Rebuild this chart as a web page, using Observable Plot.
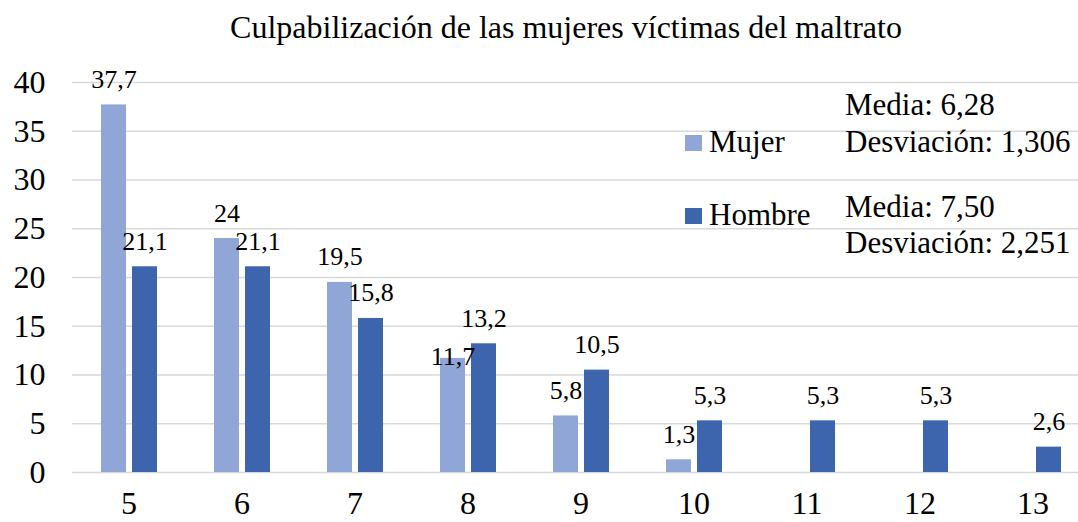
<!DOCTYPE html>
<html>
<head>
<meta charset="utf-8">
<script src="https://cdn.jsdelivr.net/npm/d3@7"></script>
<script src="https://cdn.jsdelivr.net/npm/@observablehq/plot@0.6"></script>
<style>
  html, body { margin: 0; padding: 0; background: #fff; overflow: hidden; }
  #wrap { position: relative; width: 1078px; height: 522px; font-family: "Liberation Serif", "Times New Roman", Times, "Tinos", serif; color: #000; }
  #wrap svg { position: absolute; left: 0; top: 0; font-family: "Liberation Serif", "Times New Roman", Times, "Tinos", serif !important; }
  #wrap svg text { font-family: "Liberation Serif", "Times New Roman", Times, "Tinos", serif !important; }
  .t { position: absolute; line-height: 1; white-space: nowrap; }
  .sw { position: absolute; width: 17px; height: 16px; }
</style>
</head>
<body>
<div id="wrap">
  <div class="t" id="title" style="left:0; top:11px; width:1078px; padding-left:54px; box-sizing:border-box; text-align:center; font-size:32px;"></div>
</div>
<script>
const categories = [5, 6, 7, 8, 9, 10, 11, 12, 13];
const mujer  = [37.7, 24, 19.5, 11.7, 5.8, 1.3, null, null, null];
const hombre = [21.1, 21.1, 15.8, 13.2, 10.5, 5.3, 5.3, 5.3, 2.6];
const series = ["Mujer", "Hombre"];
const colors = ["#8FA6D6", "#3C65AE"];
const yTicks = [0, 5, 10, 15, 20, 25, 30, 35, 40];
const titleText = "Culpabilización de las mujeres víctimas del maltrato";
const statsMujer = ["Media: 6,28", "Desviación: 1,306"];
const statsHombre = ["Media: 7,50", "Desviación: 2,251"];

const rows = [];
categories.forEach((c, i) => {
  rows.push({cat: c, sex: "Mujer", value: mujer[i]});
  rows.push({cat: c, sex: "Hombre", value: hombre[i]});
});
const fmt = v => String(v).replace(".", ",");
const isShifted = d => d.cat === 8 && d.sex === "Mujer";
const serifStack = '"Liberation Serif", "Times New Roman", Times, Tinos, serif';

const chart = Plot.plot({
  width: 1078,
  height: 522,
  marginTop: 82,
  marginBottom: 50,
  marginLeft: 70,
  marginRight: 0,
  style: {fontFamily: serifStack, fontSize: "32px", color: "#000", background: "transparent", overflow: "visible"},
  facet: {data: rows, x: "cat"},
  fx: {domain: categories, range: [70, 1090], paddingInner: 0, paddingOuter: 0, tickSize: 0, tickPadding: 19, label: null},
  x: {domain: series, paddingInner: 0.2, paddingOuter: 0.87, axis: null},
  y: {domain: [0, 40], ticks: yTicks, tickSize: 0, tickPadding: 27, label: null},
  color: {domain: series, range: colors},
  marks: [
    Plot.ruleY(yTicks, {stroke: "#d9d9d9", strokeWidth: 1.6}),
    Plot.barY(rows, {x: "sex", y: "value", fill: "sex", inset: 0}),
    Plot.text(rows, {filter: d => d.value != null && !isShifted(d), x: "sex", y: "value", text: d => fmt(d.value), lineAnchor: "bottom", dy: -17, fontSize: 26, fill: "#000"}),
    Plot.text(rows, {filter: d => d.value != null && isShifted(d), x: "sex", y: "value", text: d => fmt(d.value), lineAnchor: "bottom", dy: 7, fontSize: 26, fill: "#000"})
  ]
});
chart.setAttribute("font-family", serifStack);
const wrap = document.getElementById("wrap");
wrap.insertBefore(chart, wrap.firstChild);
document.getElementById("title").textContent = titleText;

function addText(txt, left, top, size) {
  const d = document.createElement("div");
  d.className = "t";
  d.style.left = left + "px";
  d.style.top = top + "px";
  d.style.fontSize = size + "px";
  d.textContent = txt;
  wrap.appendChild(d);
}
function addSwatch(color, left, top) {
  const s = document.createElement("div");
  s.className = "sw";
  s.style.left = left + "px";
  s.style.top = top + "px";
  s.style.background = color;
  wrap.appendChild(s);
}
// legend
addSwatch(colors[0], 685, 135);
addText(series[0], 709, 126, 31);
addSwatch(colors[1], 685, 208);
addText(series[1], 709, 199, 31);
// stats annotations
addText(statsMujer[0], 845, 89, 31);
addText(statsMujer[1], 845, 126, 31);
addText(statsHombre[0], 845, 191, 31);
addText(statsHombre[1], 845, 227, 31);
</script>
</body>
</html>
